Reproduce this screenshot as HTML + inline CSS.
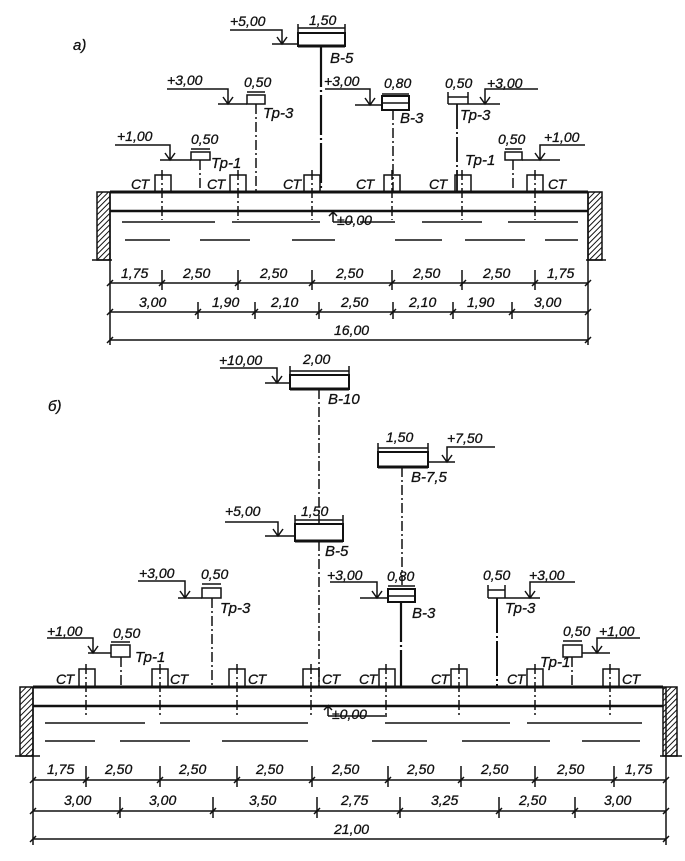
<!DOCTYPE html>
<html><head><meta charset="utf-8"><style>
html,body{margin:0;padding:0;background:#fff}
svg{display:block}
text{font-family:"Liberation Sans",sans-serif;font-style:italic;font-size:14px;fill:#111;stroke:#111;stroke-width:0.3}
.t{font-size:15px}
</style></head><body>
<svg width="685" height="861" viewBox="0 0 685 861" xmlns="http://www.w3.org/2000/svg">
<defs>
<pattern id="h" width="4" height="4" patternUnits="userSpaceOnUse" patternTransform="rotate(45)">
<rect width="4" height="4" fill="#fff"/><line x1="0" y1="0" x2="0" y2="4" stroke="#111" stroke-width="2"/></pattern>
</defs>
<g stroke="#111" fill="none" stroke-width="1.5">
<!-- ================= a) ================= -->
<rect x="97" y="192" width="13" height="68" fill="url(#h)"/>
<rect x="588" y="192" width="14" height="68" fill="url(#h)"/>
<line x1="92" y1="260" x2="112" y2="260"/><line x1="586" y1="260" x2="606" y2="260"/>
<line x1="110" y1="192" x2="588" y2="192" stroke-width="3"/>
<line x1="110" y1="211" x2="588" y2="211" stroke-width="2.5"/>
<line x1="110" y1="192" x2="110" y2="345"/><line x1="588" y1="192" x2="588" y2="345"/>
<path d="M122 222H215M232 222H320M360 222H395M422 222H482M508 222H578" />
<path d="M125 240H170M200 240H250M292 240H335M395 240H442M465 240H525M545 240H578"/>
<path d="M333 222V212L329 216M333 212L337 216M333 222H353" />
<g stroke-width="1.5">
<rect x="155" y="175" width="16" height="17"/><rect x="230" y="175" width="16" height="17"/><rect x="304" y="175" width="16" height="17"/>
<rect x="384" y="175" width="16" height="17"/><rect x="455" y="175" width="16" height="17"/><rect x="527" y="175" width="16" height="17"/>
</g>
<g stroke-dasharray="10,3,2,3">
<line x1="162" y1="170" x2="162" y2="220"/><line x1="238" y1="170" x2="238" y2="220"/><line x1="312" y1="170" x2="312" y2="220"/>
<line x1="392" y1="170" x2="392" y2="220"/><line x1="462" y1="170" x2="462" y2="220"/><line x1="535" y1="170" x2="535" y2="220"/>
<line x1="200" y1="160" x2="200" y2="192"/><line x1="256" y1="104" x2="256" y2="192"/>
<line x1="393" y1="110" x2="393" y2="192"/><line x1="513" y1="160" x2="513" y2="192"/>
</g>
<line x1="321" y1="47" x2="321" y2="192" stroke-width="2.2" stroke-dasharray="40,3,2,3"/>
<line x1="457" y1="104" x2="457" y2="192" stroke-width="1.8" stroke-dasharray="25,3,2,3"/>
<rect x="191" y="152" width="19" height="8"/>
<path d="M115 145H170V160M165 153L170 160L175 153M160 160H191M191 149H210"/>
<rect x="247" y="95" width="18" height="9"/>
<path d="M167 89H228V104M223 97L228 104L233 97M218 104H247M247 92H265"/>
<rect x="298" y="33" width="47" height="13" stroke-width="2"/><line x1="298" y1="46" x2="345" y2="46" stroke-width="3"/>
<path d="M230 30H282V44M277 37L282 44L287 37M272 44H298M298 28H345M298 24V33M345 24V33"/>
<rect x="382" y="96" width="27" height="14" stroke-width="2"/><line x1="382" y1="103" x2="409" y2="103"/>
<path d="M325 89H370V105M365 98L370 105L375 98M355 105H382M382 94H409"/>
<path d="M448 104H500M448 97H468M448 92V104M468 92V104M538 89H485V104M480 97L485 104L490 97"/>
<rect x="505" y="152" width="17" height="8"/>
<path d="M585 145H540V160M535 153L540 160L545 153M522 160H560M505 149H522"/>
<path d="M110 283H588M110 312H588M110 340H588"/>
<path d="M107 286L113 280M159 286L165 280M235 286L241 280M309 286L315 280M389 286L395 280M460 286L466 280M532 286L538 280M585 286L591 280"/>
<path d="M162 270V290M238 270V290M312 270V290M392 270V290M462 270V290M535 270V290"/>
<path d="M107 315L113 309M195 315L201 309M252 315L258 309M316 315L322 309M390 315L396 309M450 315L456 309M509 315L515 309M585 315L591 309"/>
<path d="M198 302V319M255 302V319M319 302V319M393 302V319M453 302V319M512 302V319"/>
<path d="M107 343L113 337M585 343L591 337"/>

<!-- ================= б) ================= -->
<rect x="20" y="687" width="13" height="69" fill="url(#h)"/>
<rect x="663" y="687" width="14" height="69" fill="url(#h)"/>
<line x1="15" y1="756" x2="40" y2="756"/><line x1="660" y1="756" x2="682" y2="756"/>
<line x1="33" y1="687" x2="663" y2="687" stroke-width="3"/>
<line x1="33" y1="706" x2="663" y2="706" stroke-width="2.5"/>
<line x1="33" y1="687" x2="33" y2="845"/><line x1="666" y1="687" x2="666" y2="845"/>
<path d="M45 723H145M160 723H308M385 723H510M527 723H642"/>
<path d="M45 741H95M120 741H190M222 741H308M372 741H427M462 741H550M582 741H640"/>
<path d="M328 716V706L324 710M328 706L332 710M328 716H387" />
<g stroke-width="1.5">
<rect x="79" y="669" width="16" height="18"/><rect x="152" y="669" width="16" height="18"/><rect x="229" y="669" width="16" height="18"/>
<rect x="303" y="669" width="16" height="18"/><rect x="379" y="669" width="16" height="18"/><rect x="451" y="669" width="16" height="18"/>
<rect x="527" y="669" width="16" height="18"/><rect x="603" y="669" width="16" height="18"/>
</g>
<g stroke-dasharray="10,3,2,3">
<line x1="86" y1="664" x2="86" y2="716"/><line x1="160" y1="664" x2="160" y2="716"/><line x1="237" y1="664" x2="237" y2="716"/>
<line x1="311" y1="664" x2="311" y2="716"/><line x1="386" y1="664" x2="386" y2="716"/><line x1="459" y1="664" x2="459" y2="716"/>
<line x1="535" y1="664" x2="535" y2="716"/><line x1="610" y1="664" x2="610" y2="716"/>
<line x1="121" y1="657" x2="121" y2="687"/><line x1="212" y1="598" x2="212" y2="687"/>
<line x1="319" y1="389" x2="319" y2="524"/><line x1="319" y1="541" x2="319" y2="687"/>
<line x1="402" y1="467" x2="402" y2="589"/><line x1="572" y1="657" x2="572" y2="687"/>
</g>
<line x1="401" y1="602" x2="401" y2="687" stroke-width="2.2" stroke-dasharray="40,3,2,3"/>
<line x1="497" y1="598" x2="497" y2="687" stroke-width="2" stroke-dasharray="35,3,2,3"/>
<rect x="111" y="645" width="19" height="12"/>
<path d="M47 638H93V653M88 646L93 653L98 646M88 653H111M111 642H130"/>
<rect x="202" y="588" width="19" height="10"/>
<path d="M138 581H185V598M180 591L185 598L190 591M178 598H202M202 584H221"/>
<rect x="290" y="375" width="59" height="14" stroke-width="2"/><line x1="290" y1="389" x2="349" y2="389" stroke-width="3"/>
<path d="M220 368H277V383M272 376L277 383L282 376M265 383H290M290 371H349M290 366V375M349 366V375"/>
<rect x="378" y="452" width="50" height="15" stroke-width="2"/><line x1="378" y1="467" x2="428" y2="467" stroke-width="3"/>
<path d="M495 447H447V462M442 455L447 462L452 455M428 462H455M378 448H428M378 443V452M428 443V452"/>
<rect x="295" y="524" width="48" height="17" stroke-width="2"/><line x1="295" y1="541" x2="343" y2="541" stroke-width="3"/>
<path d="M225 522H278V536M273 529L278 536L283 529M265 536H295M295 520H343M295 515V524M343 515V524"/>
<rect x="388" y="589" width="27" height="13" stroke-width="2"/><line x1="388" y1="596" x2="415" y2="596"/>
<path d="M330 582H377V598M372 591L377 598L382 591M360 598H388M388 586H415"/>
<path d="M488 598H540M488 590H505M488 585V598M505 585V598M575 582H530V598M525 591L530 598L535 591"/>
<rect x="563" y="645" width="19" height="12"/>
<path d="M640 638H597V653M592 646L597 653L602 646M582 653H610M563 641H582"/>
<path d="M33 780H666M33 811H666M33 839H666"/>
<path d="M30 783L36 777M83 783L89 777M157 783L163 777M234 783L240 777M309 783L315 777M385 783L391 777M458 783L464 777M532 783L538 777M611 783L617 777M663 783L669 777"/>
<path d="M86 766V787M160 766V787M237 766V787M312 766V787M388 766V787M461 766V787M535 766V787M614 766V787"/>
<path d="M30 814L36 808M117 814L123 808M210 814L216 808M314 814L320 808M397 814L403 808M496 814L502 808M572 814L578 808M663 814L669 808"/>
<path d="M120 797V818M213 797V818M317 797V818M400 797V818M499 797V818M575 797V818"/>
<path d="M30 842L36 836M663 842L669 836"/>
</g>
<!-- ====== text a ====== -->
<text x="73" y="50" class="t">а)</text>
<text x="230" y="26">+5,00</text><text x="309" y="25">1,50</text><text x="330" y="63" class="t">В-5</text>
<text x="167" y="85">+3,00</text><text x="244" y="87">0,50</text><text x="263" y="118" class="t">Тр-3</text>
<text x="324" y="86">+3,00</text><text x="384" y="88">0,80</text><text x="400" y="123" class="t">В-3</text>
<text x="445" y="88">0,50</text><text x="487" y="88">+3,00</text><text x="460" y="120" class="t">Тр-3</text>
<text x="117" y="141">+1,00</text><text x="191" y="144">0,50</text><text x="211" y="168" class="t">Тр-1</text>
<text x="498" y="144">0,50</text><text x="544" y="142">+1,00</text><text x="465" y="165" class="t">Тр-1</text>
<text x="131" y="189">СТ</text><text x="207" y="189">СТ</text><text x="283" y="189">СТ</text>
<text x="356" y="189">СТ</text><text x="429" y="189">СТ</text><text x="548" y="189">СТ</text>
<text x="337" y="225">±0,00</text>
<text x="121" y="278">1,75</text><text x="183" y="278">2,50</text><text x="260" y="278">2,50</text><text x="336" y="278">2,50</text>
<text x="413" y="278">2,50</text><text x="483" y="278">2,50</text><text x="547" y="278">1,75</text>
<text x="139" y="307">3,00</text><text x="212" y="307">1,90</text><text x="271" y="307">2,10</text><text x="341" y="307">2,50</text>
<text x="409" y="307">2,10</text><text x="467" y="307">1,90</text><text x="534" y="307">3,00</text>
<text x="334" y="335">16,00</text>
<!-- ====== text б ====== -->
<text x="48" y="411" class="t">б)</text>
<text x="219" y="365">+10,00</text><text x="303" y="364">2,00</text><text x="328" y="404" class="t">В-10</text>
<text x="386" y="442">1,50</text><text x="447" y="443">+7,50</text><text x="411" y="482" class="t">В-7,5</text>
<text x="225" y="516">+5,00</text><text x="301" y="516">1,50</text><text x="325" y="556" class="t">В-5</text>
<text x="139" y="578">+3,00</text><text x="201" y="579">0,50</text><text x="220" y="613" class="t">Тр-3</text>
<text x="327" y="580">+3,00</text><text x="387" y="581">0,80</text><text x="412" y="618" class="t">В-3</text>
<text x="483" y="580">0,50</text><text x="529" y="580">+3,00</text><text x="505" y="613" class="t">Тр-3</text>
<text x="47" y="636">+1,00</text><text x="113" y="638">0,50</text><text x="135" y="662" class="t">Тр-1</text>
<text x="563" y="636">0,50</text><text x="599" y="636">+1,00</text><text x="540" y="667" class="t">Тр-1</text>
<text x="56" y="684">СТ</text><text x="170" y="684">СТ</text><text x="248" y="684">СТ</text><text x="322" y="684">СТ</text>
<text x="359" y="684">СТ</text><text x="431" y="684">СТ</text><text x="507" y="684">СТ</text><text x="622" y="684">СТ</text>
<text x="332" y="719">±0,00</text>
<text x="47" y="774">1,75</text><text x="105" y="774">2,50</text><text x="179" y="774">2,50</text><text x="256" y="774">2,50</text>
<text x="332" y="774">2,50</text><text x="407" y="774">2,50</text><text x="481" y="774">2,50</text><text x="557" y="774">2,50</text><text x="625" y="774">1,75</text>
<text x="64" y="805">3,00</text><text x="149" y="805">3,00</text><text x="249" y="805">3,50</text><text x="341" y="805">2,75</text>
<text x="431" y="805">3,25</text><text x="519" y="805">2,50</text><text x="604" y="805">3,00</text>
<text x="334" y="834">21,00</text>
</svg>
</body></html>
